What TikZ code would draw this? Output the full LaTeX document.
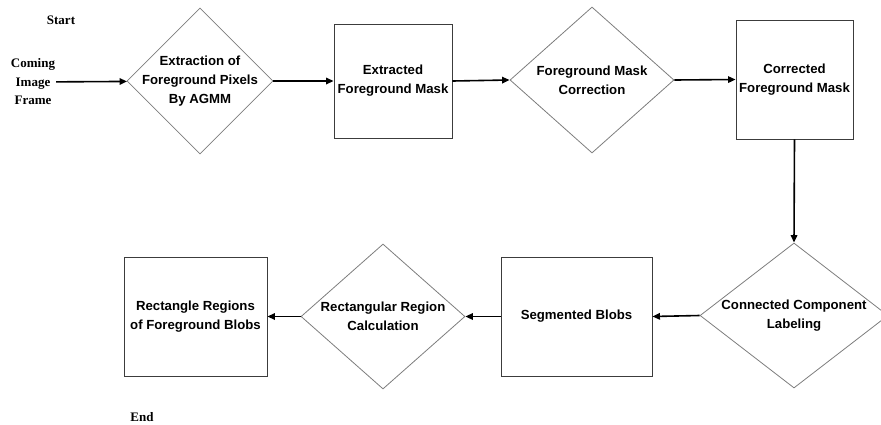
\documentclass[tikz,border=0pt]{standalone}
\usepackage{fontspec}
\setmainfont{Liberation Serif}
\newfontfamily\arialf{Liberation Sans}
\usetikzlibrary{shapes.geometric,arrows.meta}
\definecolor{diagray}{RGB}{125,125,125}
\definecolor{boxgray}{RGB}{60,60,60}
\tikzset{
  dia/.style={diamond, draw=diagray, line width=0.8pt, inner sep=0pt, aspect=1},
  boxnode/.style={rectangle, draw=boxgray, line width=0.9pt, inner sep=0pt},
  stxt/.style={font=\arialf\bfseries\fontsize{13.2}{19}\selectfont, align=center, inner sep=0pt},
  serift/.style={font=\bfseries\fontsize{13}{18.5}\selectfont, align=center, inner sep=1pt},
  arr/.style={line width=1.6pt, -{Triangle[length=7.5pt,width=6.5pt]}}
}
\begin{document}
\begin{tikzpicture}[x=1pt,y=-1pt]
\useasboundingbox (0,0) rectangle (881,424);
% labels
\node[serift] (start) at (61,20) {Start};
\node[serift] (cif) at (33,82) {Coming\\Image\\Frame};
\node[serift] (end) at (142,417) {End};
% top row
\node[dia, minimum width=146pt, minimum height=146pt] (d1) at (200,81) {};
\node[stxt] (d1t) at (d1) {Extraction of\\Foreground Pixels\\By AGMM};
\node[boxnode, minimum width=118pt, minimum height=114pt] (b1) at (393,81) {};
\node[stxt] (b1t) at (b1) {Extracted\\Foreground Mask};
\node[dia, minimum width=164pt, minimum height=146pt] (d2) at (592,80) {};
\node[stxt] (d2t) at (d2) {Foreground Mask\\Correction};
\node[boxnode, minimum width=117pt, minimum height=119pt] (b2) at (794.5,79.5) {};
\node[stxt] (b2t) at (b2) {Corrected\\Foreground Mask};
% bottom row
\node[dia, minimum width=188pt, minimum height=145pt] (d3) at (794,315.5) {};
\node[stxt] (d3t) at (d3) {Connected Component\\Labeling};
\node[boxnode, minimum width=151pt, minimum height=119pt] (b3) at (576.5,316.5) {};
\node[stxt] (b3t) at (b3) {Segmented Blobs};
\node[dia, minimum width=164pt, minimum height=145pt] (d4) at (383,316.5) {};
\node[stxt] (d4t) at (d4) {Rectangular Region\\Calculation};
\node[boxnode, minimum width=143pt, minimum height=119pt] (b4) at (195.5,316.5) {};
\node[stxt] (b4t) at (b4) {Rectangle Regions\\of Foreground Blobs};
% connectors
\draw[arr] (cif) -- (d1);
\draw[arr] (d1.east) -- (b1.west);
\draw[arr] (b1.east) -- (d2.west);
\draw[arr] (d2.east) -- (b2.west);
\draw[arr] (b2.south) -- (d3.north);
\draw[arr] (d3.west) -- (b3.east);
\draw[arr] (b3.west) -- (d4.east);
\draw[arr] (d4.west) -- (b4.east);
\end{tikzpicture}
\end{document}
